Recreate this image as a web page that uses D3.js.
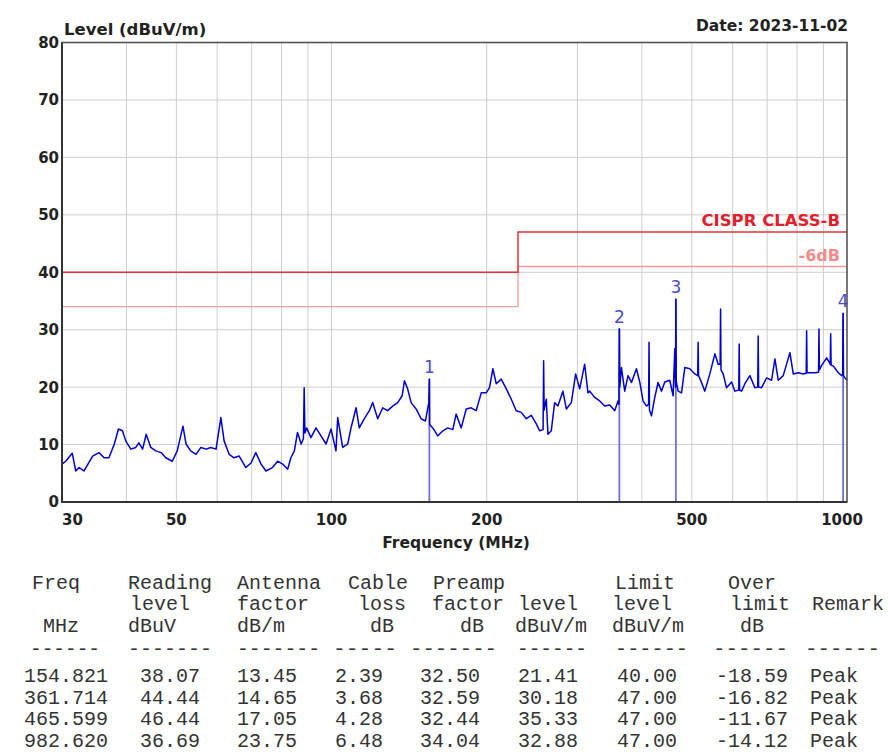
<!DOCTYPE html>
<html>
<head>
<meta charset="utf-8">
<script src="https://cdn.jsdelivr.net/npm/d3@7"></script>
<style>
  body { margin: 0; background: #fff; }
  svg { display: block; }
</style>
</head>
<body>
<div id="chart"></div>
<script>
// measured trace (MHz, dBuV/m)
const traceFreq = [
  30.0, 30.5, 31.4, 31.9, 32.4, 33.1, 33.8, 34.4, 35.4, 36.2, 37.0, 37.9, 38.6, 39.3, 39.9,
  40.8, 41.7, 42.3, 43.0, 43.7, 44.6, 45.6, 46.7, 47.7, 49.1, 50.2, 51.5, 52.2, 53.3, 54.6,
  55.8, 57.1, 58.3, 59.7, 61.0, 61.9, 63.3, 64.7, 66.2, 68.2, 69.8, 71.3, 73.0, 74.6, 76.8,
  78.6, 80.4, 82.2, 83.4, 84.7, 85.9, 87.3, 88.2, 88.5, 88.8, 89.5, 91.2, 93.3, 95.4, 97.6,
  99.8, 102.0, 102.8, 105.1, 107.5, 109.1, 111.6, 113.2, 115.8, 118.4, 120.2, 122.9, 125.7, 128.5, 131.4,
  134.4, 137.1, 138.5, 140.5, 142.7, 145.9, 149.2, 152.1, 154.4, 154.821, 155.0, 157.2, 160.7, 164.4, 168.1,
  171.9, 174.5, 178.5, 182.5, 186.6, 190.8, 195.2, 199.6, 202.5, 205.6, 208.7, 213.4, 218.3, 223.2, 228.2,
  233.4, 238.7, 244.1, 249.6, 253.3, 257.3, 257.9, 258.5, 261.0, 262.9, 266.9, 270.9, 274.9, 281.1, 285.5,
  291.9, 297.6, 303.0, 309.8, 314.4, 316.8, 324.0, 331.3, 338.8, 346.5, 354.3, 359.6, 361.0, 361.714, 362.4,
  365.1, 370.5, 376.0, 381.8, 390.4, 396.2, 402.1, 408.3, 412.2, 413.0, 413.8, 417.5, 423.7, 430.0, 436.6,
  443.1, 453.1, 459.9, 463.4, 464.8, 465.599, 466.4, 470.3, 477.5, 484.6, 495.5, 506.7, 513.3, 514.3, 515.3,
  522.2, 529.9, 541.9, 554.2, 562.4, 567.4, 568.5, 569.6, 575.1, 583.9, 597.1, 606.0, 616.6, 617.8, 619.0,
  624.4, 633.7, 648.0, 662.7, 671.2, 672.5, 673.8, 682.8, 698.3, 714.1, 724.7, 735.5, 752.1, 775.0, 786.5,
  804.3, 822.5, 833.4, 835.0, 836.6, 847.5, 866.6, 880.6, 882.3, 884.0, 893.0, 913.2, 927.9, 929.7, 931.5,
  940.5, 961.8, 976.5, 980.7, 982.62, 984.6, 991.1, 1000
];
const traceLevel = [
  6.6, 7.1, 8.5, 5.4, 6.0, 5.4, 6.8, 8.0, 8.6, 7.7, 7.7, 10.1, 12.7, 12.4, 10.6,
  9.2, 9.5, 10.3, 9.2, 11.8, 9.5, 8.9, 8.6, 7.7, 7.1, 8.9, 13.2, 10.1, 8.9, 8.3,
  9.5, 9.2, 9.5, 9.2, 14.7, 10.6, 8.3, 7.7, 8.0, 6.0, 6.8, 8.6, 6.6, 5.4, 6.0,
  7.1, 6.6, 5.7, 7.7, 8.9, 12.1, 10.1, 11.0, 19.9, 12.0, 12.9, 11.2, 12.9, 11.5, 10.1,
  12.7, 8.9, 14.7, 9.5, 10.1, 12.9, 16.4, 12.9, 14.5, 15.9, 17.3, 14.5, 16.4, 15.9, 16.7,
  17.3, 18.5, 21.1, 19.7, 17.3, 16.2, 14.5, 14.1, 17.3, 21.41, 13.5, 12.9, 11.5, 12.4, 12.9,
  12.6, 15.3, 12.9, 16.2, 16.4, 15.9, 19.0, 19.0, 19.9, 23.2, 20.6, 21.4, 19.7, 17.9, 15.9,
  15.6, 14.5, 15.1, 13.6, 12.4, 12.6, 24.6, 16.0, 17.9, 11.8, 12.4, 17.3, 16.7, 19.3, 16.2,
  17.3, 22.3, 19.7, 24.0, 19.0, 19.3, 18.2, 17.6, 16.7, 16.9, 15.9, 17.6, 17.0, 30.18, 20.0,
  23.4, 19.3, 22.0, 20.8, 23.2, 20.9, 17.6, 16.7, 17.0, 27.8, 16.0, 15.0, 18.2, 20.8, 19.3,
  20.9, 21.2, 18.5, 26.7, 20.0, 35.33, 21.0, 19.3, 19.0, 23.4, 23.2, 22.3, 22.0, 27.8, 22.0,
  20.8, 19.3, 22.3, 25.8, 24.0, 24.0, 33.6, 23.0, 22.3, 19.9, 20.9, 19.3, 19.5, 27.5, 19.5,
  19.3, 20.6, 22.0, 19.9, 20.0, 28.9, 20.0, 19.9, 21.6, 21.2, 24.9, 21.2, 22.0, 26.0, 22.3,
  22.5, 22.3, 22.4, 29.8, 22.5, 22.5, 22.5, 22.6, 30.1, 23.0, 23.8, 25.1, 24.0, 29.3, 23.8,
  23.7, 22.5, 22.0, 22.2, 32.88, 22.0, 21.6, 21.2
];

const limitFreq = [30, 230, 230, 1000];
const limitLevel = [40, 40, 47, 47];
const limit6Level = [34, 34, 41, 41];

const markerFreq = [154.821, 361.714, 465.599, 982.620];
const markerLevel = [21.41, 30.18, 35.33, 32.88];
const markerLabel = ["1", "2", "3", "4"];

const xTicks = [30, 50, 100, 200, 500, 1000];
const xGrid = [40, 50, 60, 70, 80, 90, 100, 200, 300, 400, 500, 600, 700, 800, 900];
const yTicks = [0, 10, 20, 30, 40, 50, 60, 70, 80];

const headLine1 = ["Freq", "Reading", "Antenna", "Cable", "Preamp", "", "Limit", "Over", ""];
const headLine2 = ["", "level", "factor", "loss", "factor", "level", "level", "limit", "Remark"];
const headLine3 = ["MHz", "dBuV", "dB/m", "dB", "dB", "dBuV/m", "dBuV/m", "dB", ""];
const tblFreq = ["154.821", "361.714", "465.599", "982.620"];
const tblReading = ["38.07", "44.44", "46.44", "36.69"];
const tblAntenna = ["13.45", "14.65", "17.05", "23.75"];
const tblCable = ["2.39", "3.68", "4.28", "6.48"];
const tblPreamp = ["32.50", "32.59", "32.44", "34.04"];
const tblLevel = ["21.41", "30.18", "35.33", "32.88"];
const tblLimit = ["40.00", "47.00", "47.00", "47.00"];
const tblOver = ["-18.59", "-16.82", "-11.67", "-14.12"];
const tblRemark = ["Peak", "Peak", "Peak", "Peak"];

function init() {
    const width = 888, height = 754;
    const left = 62, right = 847, top = 42.5, bottom = 502;
    const boldFont = "'DejaVu Sans', sans-serif";
    const monoFont = "'Liberation Mono', 'DejaVu Sans Mono', monospace";

    const svg = d3.select("#chart").append("svg")
        .attr("width", width).attr("height", height);
    svg.append("rect").attr("width", width).attr("height", height).attr("fill", "#fff");

    const x = d3.scaleLog().domain([30, 1000]).range([left, right]);
    const y = d3.scaleLinear().domain([0, 80]).range([bottom, top]);

    // grid
    svg.append("g").selectAll("line").data(xGrid).enter().append("line")
        .attr("x1", d => x(d)).attr("x2", d => x(d))
        .attr("y1", top).attr("y2", bottom)
        .attr("stroke", "#cdcdcd").attr("stroke-width", 1);
    svg.append("g").selectAll("line").data(yTicks.slice(1, -1)).enter().append("line")
        .attr("x1", left).attr("x2", right)
        .attr("y1", d => y(d)).attr("y2", d => y(d))
        .attr("stroke", "#cdcdcd").attr("stroke-width", 1);

    // limit lines
    const limitLine = d3.line().x(d => x(d[0])).y(d => y(d[1]));
    svg.append("path")
        .attr("d", limitLine(limitFreq.map((f, i) => [f, limit6Level[i]])))
        .attr("fill", "none").attr("stroke", "#f29a9a").attr("stroke-width", 1.3);
    svg.append("path")
        .attr("d", limitLine(limitFreq.map((f, i) => [f, limitLevel[i]])))
        .attr("fill", "none").attr("stroke", "#e4323c").attr("stroke-width", 1.5);

    svg.append("text").attr("x", 840).attr("y", 226)
        .attr("text-anchor", "end").attr("font-family", boldFont).attr("font-weight", "bold")
        .attr("font-size", 16.5).attr("fill", "#e0202c").text("CISPR CLASS-B");
    svg.append("text").attr("x", 840).attr("y", 261)
        .attr("text-anchor", "end").attr("font-family", boldFont).attr("font-weight", "bold")
        .attr("font-size", 16).attr("fill", "#f28c8c").text("-6dB");

    // marker lines
    svg.append("g").selectAll("line").data(markerFreq).enter().append("line")
        .attr("x1", d => x(d)).attr("x2", d => x(d))
        .attr("y1", y(0)).attr("y2", (d, i) => y(markerLevel[i]))
        .attr("stroke", "#6e6ee6").attr("stroke-width", 1.8);

    // trace
    const trace = d3.line().x(d => x(d[0])).y(d => y(d[1]));
    svg.append("path")
        .attr("d", trace(traceFreq.map((f, i) => [f, traceLevel[i]])))
        .attr("fill", "none").attr("stroke", "#0000cc").attr("stroke-width", 1.5)
        .attr("stroke-linejoin", "round");

    svg.append("g").selectAll("text").data(markerFreq).enter().append("text")
        .attr("x", d => x(d)).attr("y", (d, i) => y(markerLevel[i]) - 6)
        .attr("text-anchor", "middle").attr("font-family", boldFont)
        .attr("font-size", 17).attr("fill", "#4b4bcc")
        .text((d, i) => markerLabel[i]);

    // frame
    svg.append("rect").attr("x", left).attr("y", top)
        .attr("width", right - left).attr("height", bottom - top)
        .attr("fill", "none").attr("stroke", "#555").attr("stroke-width", 1.6);
    svg.append("path").attr("d", `M${left},${top}V${bottom}H${right}`)
        .attr("fill", "none").attr("stroke", "#333").attr("stroke-width", 2);

    // tick labels
    svg.append("g").selectAll("text").data(yTicks).enter().append("text")
        .attr("x", left - 3).attr("y", d => y(d)).attr("dy", "0.36em")
        .attr("text-anchor", "end").attr("font-family", boldFont).attr("font-weight", "bold")
        .attr("font-size", 15).attr("fill", "#222").text(d => d);
    svg.append("g").selectAll("text").data(xTicks).enter().append("text")
        .attr("x", d => d === 1000 ? x(d) - 5 : x(d))
        .attr("y", 525)
        .attr("text-anchor", d => d === 30 ? "start" : "middle")
        .attr("font-family", boldFont).attr("font-weight", "bold")
        .attr("font-size", 15).attr("fill", "#222").text(d => d);

    svg.append("text").attr("x", 64).attr("y", 35)
        .attr("font-family", boldFont).attr("font-weight", "bold")
        .attr("font-size", 16.5).attr("fill", "#222").text("Level (dBuV/m)");
    svg.append("text").attr("x", 848).attr("y", 31).attr("text-anchor", "end")
        .attr("font-family", boldFont).attr("font-weight", "bold")
        .attr("font-size", 15.5).attr("fill", "#222").text("Date: 2023-11-02");
    svg.append("text").attr("x", 456).attr("y", 548).attr("text-anchor", "middle")
        .attr("font-family", boldFont).attr("font-weight", "bold")
        .attr("font-size", 15.5).attr("fill", "#222").text("Frequency (MHz)");

    // table
    const tbl = svg.append("g").attr("font-family", monoFont)
        .attr("font-size", 20).attr("fill", "#333");
    const head1X = [32, 128, 237, 348, 433, 0, 615, 728, 0];
    const head2X = [0, 130, 237, 358, 432, 518, 612, 730, 812];
    const head3X = [43, 128, 237, 370, 460, 515, 612, 740, 0];
    [[headLine1, head1X, 589], [headLine2, head2X, 610], [headLine3, head3X, 632]].forEach(([row, xs, yy]) => {
        tbl.append("g").selectAll("text").data(row).enter().append("text")
            .attr("x", (d, i) => xs[i]).attr("y", yy).text(d => d);
    });

    const dashSpans = [[30, 100], [128, 212], [237, 320], [333, 397], [410, 497], [517, 587], [615, 688], [713, 788], [805, 880]];
    tbl.append("g").selectAll("text").data(dashSpans).enter().append("text")
        .attr("x", d => d[0]).attr("y", 655)
        .attr("textLength", d => d[1] - d[0]).attr("lengthAdjust", "spacingAndGlyphs")
        .text(d => "-".repeat(Math.round((d[1] - d[0]) / 12)));

    const cols = [tblFreq, tblReading, tblAntenna, tblCable, tblPreamp, tblLevel, tblLimit, tblOver];
    const colRight = [104, 200, 297, 383, 480, 578, 677, 788];
    const rowY = [682, 704, 725, 747];
    cols.forEach((col, c) => {
        tbl.append("g").selectAll("text").data(col).enter().append("text")
            .attr("x", c === 0 ? 66 : colRight[c]).attr("y", (d, i) => rowY[i])
            .attr("text-anchor", c === 0 ? "middle" : "end").text(d => d);
    });
    tbl.append("g").selectAll("text").data(tblRemark).enter().append("text")
        .attr("x", 810).attr("y", (d, i) => rowY[i]).text(d => d);
}

window.onload = init;
</script>
</body>
</html>
